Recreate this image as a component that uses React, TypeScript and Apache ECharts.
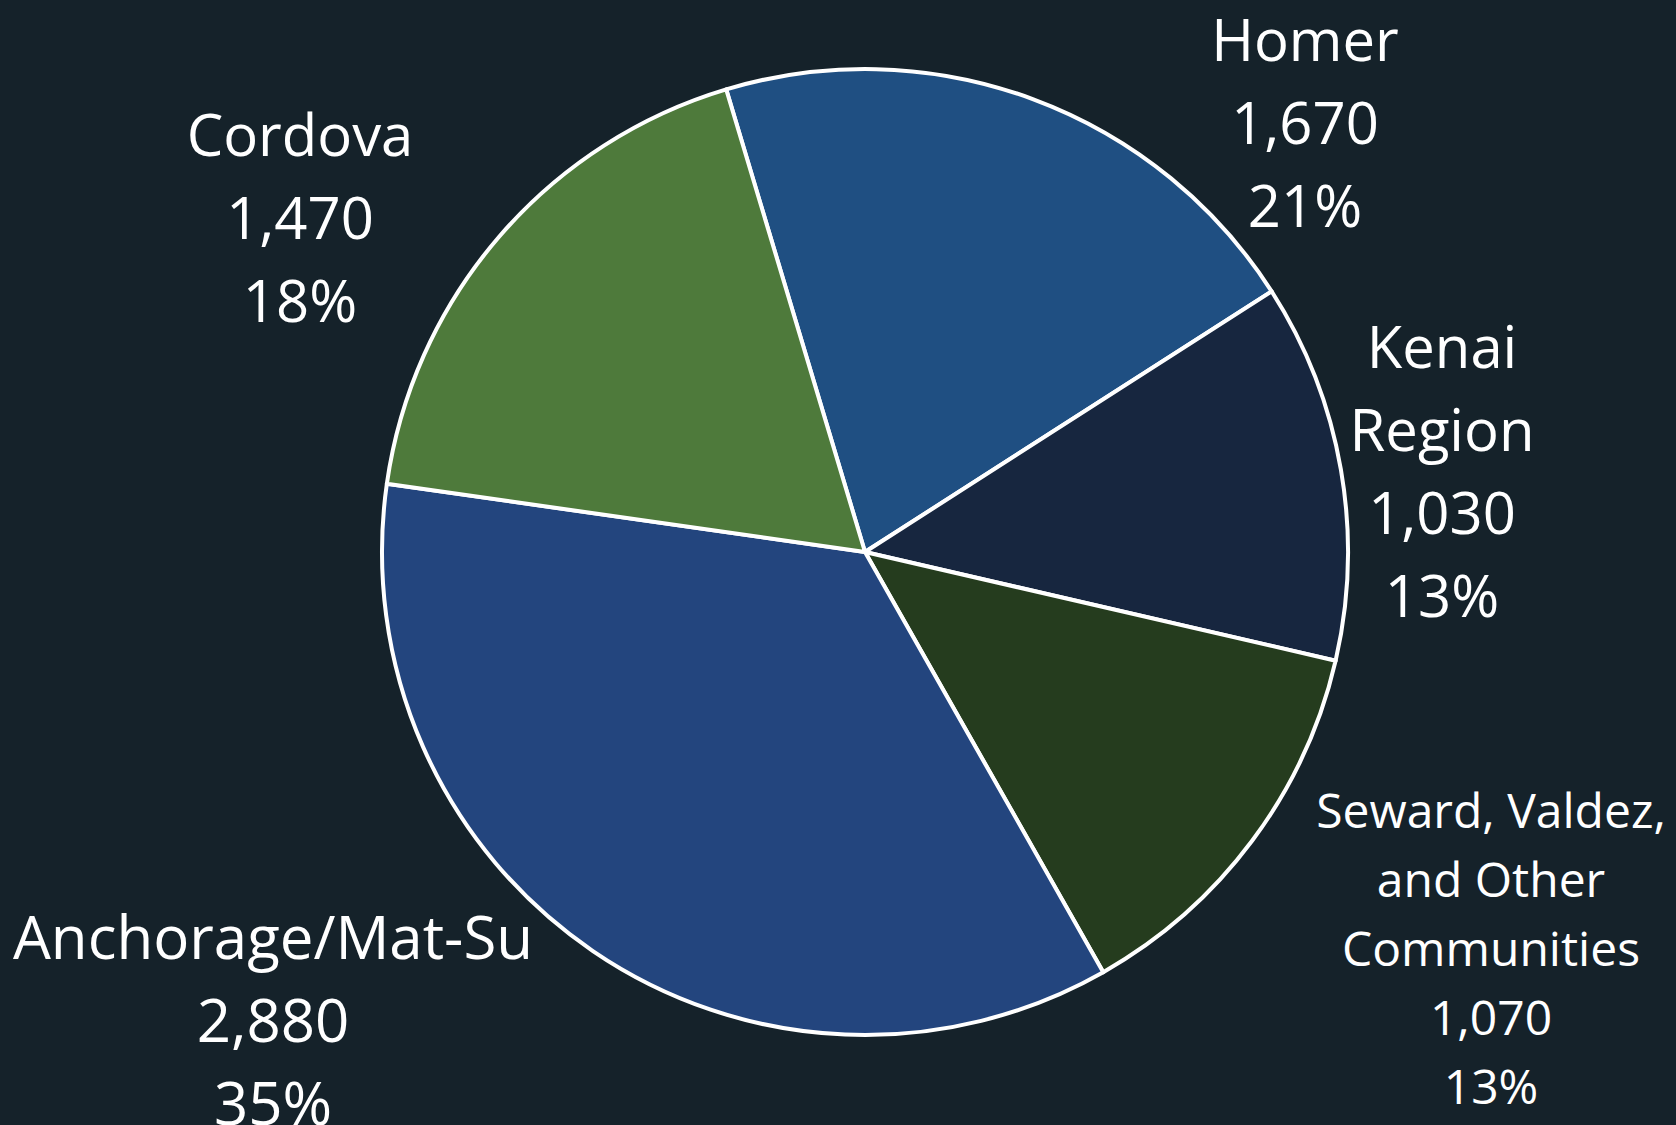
import React, { useEffect, useRef } from "react";
import * as echarts from "echarts";

const names = ["Homer", "Kenai Region", "Seward, Valdez, and Other Communities", "Anchorage/Mat-Su", "Cordova"];
const labelNames = ["Homer", "Kenai\nRegion", "Seward, Valdez,\nand Other\nCommunities", "Anchorage/Mat-Su", "Cordova"];
const values = [1670, 1030, 1070, 2880, 1470];
const colors = ["#1f4f82", "#17263f", "#253c1e", "#23457e", "#4e7a3b"];
const labelPos: [number, number][] = [
  [1305, 121],
  [1442, 470],
  [1491, 947],
  [273, 1019],
  [300, 216],
];

export default function App() {
  const ref = useRef<HTMLDivElement>(null);
  useEffect(() => {
    document.body.style.margin = "0";
    document.body.style.background = "#15222a";
    const chart = echarts.init(ref.current!, null, { renderer: "svg" });
    chart.setOption({
      animation: false,
      backgroundColor: "#15222a",
      series: [
        {
          type: "pie",
          center: [865, 552],
          radius: 483,
          startAngle: 106.7,
          clockwise: true,
          avoidLabelOverlap: false,
          itemStyle: { borderColor: "#ffffff", borderWidth: 4 },
          labelLine: { show: false },
          label: {
            show: true,
            position: "outside",
            color: "#ffffff",
            fontFamily: "Open Sans",
            fontSize: 58,
            lineHeight: 83,
            align: "center",
            formatter: (p: any) =>
              `${labelNames[p.dataIndex]}\n${values[p.dataIndex].toLocaleString("en-US")}\n${Math.round(p.percent)}%`,
          },
          labelLayout: (p: any) => ({
            x: labelPos[p.dataIndex][0],
            y: labelPos[p.dataIndex][1],
            align: "center",
            verticalAlign: "middle",
            hideOverlap: false,
          }),
          data: names.map((n, i) => ({
            name: n,
            value: values[i],
            itemStyle: { color: colors[i] },
            label:
              i === 2
                ? { fontSize: 48, lineHeight: 69 }
                : i === 3
                ? { fontSize: 60 }
                : undefined,
          })),
        },
      ],
    });
    return () => chart.dispose();
  }, []);
  return <div ref={ref} style={{ width: 1676, height: 1125 }} />;
}
